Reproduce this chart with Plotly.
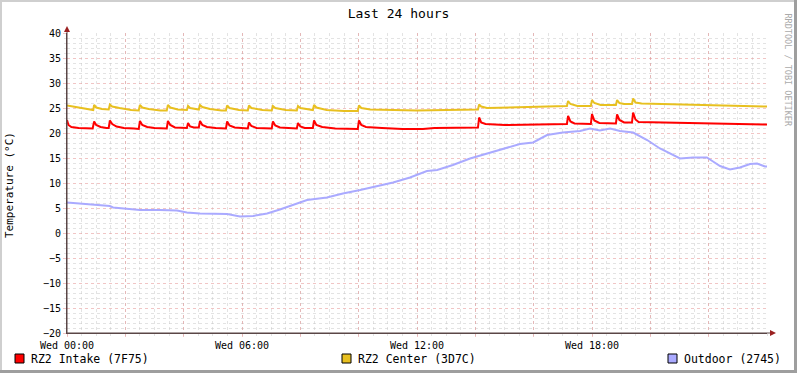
import plotly.graph_objects as go

# ---------------- data (hours since Wed 00:00, degrees C) ----------------
intake_t = [0.0, 0.05, 0.15, 0.4, 0.88,
            0.93, 1.0, 1.15, 1.35, 1.43,
            1.47, 1.55, 1.7, 1.95, 2.3, 2.46,
            2.50, 2.58, 2.75, 3.0, 3.42,
            3.46, 3.54, 3.7, 4.11,
            4.15, 4.22, 4.35, 4.52,
            4.56, 4.64, 4.8, 5.1, 5.45,
            5.49, 5.57, 5.75, 6.2,
            6.24, 6.32, 6.5, 7.02,
            7.06, 7.14, 7.3, 7.88,
            7.92, 8.0, 8.15, 8.43,
            8.47, 8.55, 8.75, 9.2, 9.97,
            10.01, 10.09, 10.25, 10.8, 11.5, 12.2, 12.6, 14.09,
            14.13, 14.2, 14.35, 15.0, 16.0, 17.14,
            17.18, 17.26, 17.4, 17.96,
            18.0, 18.08, 18.25, 18.82,
            18.86, 18.94, 19.1, 19.37,
            19.41, 19.49, 19.6, 20.5, 21.5, 23.0, 24.0]
intake_v = [22.6, 21.6, 21.2, 21.0, 20.9,
            22.3, 21.6, 21.2, 21.0, 21.0,
            22.5, 21.8, 21.3, 21.0, 20.9, 20.8,
            22.4, 21.6, 21.2, 21.0, 20.9,
            22.4, 21.6, 21.1, 21.0,
            22.0, 21.3, 21.1, 21.1,
            22.4, 21.6, 21.2, 21.0, 20.9,
            22.3, 21.5, 21.1, 20.9,
            22.1, 21.4, 21.0, 20.9,
            22.3, 21.5, 21.1, 20.9,
            22.0, 21.3, 21.0, 21.0,
            22.5, 21.6, 21.2, 20.9, 20.8,
            22.5, 21.6, 21.2, 21.0, 20.8, 20.8, 21.0, 21.1,
            23.1, 22.1, 21.8, 21.6, 21.7, 21.8,
            23.4, 22.3, 21.9, 21.8,
            23.8, 22.5, 22.0, 21.9,
            23.7, 22.6, 22.1, 22.1,
            24.1, 22.7, 22.2, 22.1, 21.9, 21.8, 21.7]

center_t = [0.0, 0.3, 0.6, 0.9,
            0.93, 1.0, 1.2, 1.43,
            1.47, 1.55, 1.8, 2.2, 2.46,
            2.50, 2.58, 2.8, 3.2, 3.42,
            3.46, 3.54, 3.8, 4.11,
            4.15, 4.22, 4.52,
            4.56, 4.64, 4.9, 5.3, 5.45,
            5.49, 5.57, 5.9, 6.2,
            6.24, 6.32, 6.7, 7.02,
            7.06, 7.14, 7.5, 7.88,
            7.92, 8.0, 8.43,
            8.47, 8.55, 8.9, 9.5, 9.97,
            10.01, 10.09, 10.4, 11.0, 12.0, 13.0, 14.09,
            14.13, 14.2, 14.4, 15.0, 16.0, 17.14,
            17.18, 17.26, 17.5, 17.96,
            18.0, 18.08, 18.3, 18.82,
            18.86, 18.94, 19.1, 19.37,
            19.41, 19.49, 19.7, 20.5, 21.5, 22.5, 23.5, 24.0]
center_v = [25.5, 25.2, 24.9, 24.6,
            25.6, 25.1, 24.8, 24.7,
            25.7, 25.3, 25.0, 24.6, 24.5,
            25.6, 25.1, 24.8, 24.5, 24.5,
            25.6, 25.1, 24.7, 24.6,
            25.4, 25.0, 24.7,
            25.6, 25.2, 24.8, 24.5, 24.5,
            25.5, 25.0, 24.6, 24.5,
            25.5, 25.0, 24.6, 24.5,
            25.4, 25.0, 24.6, 24.5,
            25.4, 25.0, 24.6,
            25.6, 25.1, 24.6, 24.4, 24.4,
            25.5, 25.0, 24.7, 24.6, 24.5, 24.6, 24.7,
            25.7, 25.3, 25.0, 25.1, 25.3, 25.4,
            26.4, 25.8, 25.4, 25.4,
            26.6, 26.0, 25.6, 25.6,
            26.6, 26.0, 25.8, 25.8,
            26.9, 26.1, 25.9, 25.8, 25.6, 25.5, 25.4, 25.3]

outdoor_t = [0.0, 0.45, 0.89, 1.47, 1.58, 2.06, 2.5, 3.19, 3.77, 4.11,
             4.56, 5.49, 5.93, 6.38, 6.86, 7.3, 7.75, 8.23, 8.91, 9.46,
             10.05, 10.63, 11.18, 11.76, 12.0, 12.34, 12.69, 13.23, 13.82, 14.4,
             14.95, 15.53, 15.98, 16.46, 17.0, 17.59, 17.93, 18.27, 18.62, 18.96,
             19.41, 19.89, 20.33, 20.78, 21.02, 21.46, 21.94, 22.15, 22.39, 22.73,
             23.07, 23.42, 23.66, 23.93, 24.0]
outdoor_v = [6.1, 5.9, 5.6, 5.4, 5.1, 4.9, 4.6, 4.6, 4.5, 4.1,
             3.9, 3.8, 3.3, 3.4, 3.9, 4.7, 5.6, 6.6, 7.1, 7.9,
             8.6, 9.3, 10.1, 11.1, 11.7, 12.4, 12.6, 13.6, 14.9, 15.9,
             16.9, 17.8, 18.1, 19.6, 20.1, 20.4, 20.9, 20.5, 20.9, 20.4,
             20.1, 18.6, 16.9, 15.6, 14.9, 15.1, 15.1, 14.3, 13.4, 12.7,
             13.1, 13.8, 13.9, 13.3, 13.3]

series_names = ["RZ2 Intake (7F75)", "RZ2 Center (3D7C)", "Outdoor (2745)"]
series_colors = ["#FF0000", "#E8C020", "#AAAAFF"]

x_tickvals = [0, 2, 4, 6, 8, 10, 12, 14, 16, 18, 20, 22]
x_ticktext = ["Wed 00:00", "", "", "Wed 06:00", "", "", "Wed 12:00", "", "", "Wed 18:00", "", ""]

# ---------------- layout helpers (pixel -> paper) ----------------
W, H = 797, 373
L, R, T, B = 67, 767, 33, 333


def px(x):
    return (x - L) / (R - L)


def py(y):
    return (B - y) / (B - T)


FONT = "DejaVu Sans Mono"

fig = go.Figure()
for t, v, n, c in [(center_t, center_v, series_names[1], series_colors[1]),
                   (intake_t, intake_v, series_names[0], series_colors[0]),
                   (outdoor_t, outdoor_v, series_names[2], series_colors[2])]:
    fig.add_trace(go.Scatter(x=t, y=v, name=n, mode="lines",
                             line=dict(color=c, width=2), showlegend=False))

grid_major = "rgba(230,150,150,0.55)"
grid_minor = "rgba(200,200,200,0.5)"
axis_col = "#5a4646"

fig.update_layout(
    width=W, height=H,
    margin=dict(l=L, r=W - R, t=T, b=H - B, pad=0, autoexpand=False),
    paper_bgcolor="#FFFFFF", plot_bgcolor="#FFFFFF",
    font=dict(family=FONT, size=10, color="#000000"),
    title=dict(text="Last 24 hours", x=0.5, xanchor="center", y=1 - 13 / H,
               yanchor="middle", font=dict(family=FONT, size=13, color="#000")),
    xaxis=dict(range=[0, 24], tickmode="array", tickvals=x_tickvals, ticktext=x_ticktext,
               showgrid=True, gridcolor=grid_major, griddash="dot", gridwidth=1,
               ticks="outside", ticklen=3, tickcolor=grid_major,
               showline=True, linecolor=axis_col, linewidth=1, zeroline=False,
               tickfont=dict(family=FONT, size=10), automargin=False,
               minor=dict(dtick=0.5, showgrid=True, gridcolor=grid_minor, griddash="dot",
                          ticks="outside", ticklen=2, tickcolor=grid_minor),
               fixedrange=True),
    yaxis=dict(range=[-20, 40], dtick=5, tick0=0,
               showgrid=True, gridcolor=grid_major, griddash="dot", gridwidth=1,
               ticks="outside", ticklen=3, tickcolor=grid_major,
               showline=True, linecolor=axis_col, linewidth=1, zeroline=False,
               tickfont=dict(family=FONT, size=10), automargin=False,
               minor=dict(dtick=1, showgrid=True, gridcolor=grid_minor, griddash="dot",
                          ticks="outside", ticklen=2, tickcolor=grid_minor),
               fixedrange=True),
)

shapes = []
# axis extensions + arrows
shapes.append(dict(type="line", xref="paper", yref="paper", x0=px(L), x1=px(L), y0=py(B), y1=py(28),
                   line=dict(color=axis_col, width=1)))
shapes.append(dict(type="line", xref="paper", yref="paper", x0=px(L), x1=px(772), y0=py(B), y1=py(B),
                   line=dict(color=axis_col, width=1)))
shapes.append(dict(type="path", xref="paper", yref="paper",
                   path=f"M {px(L-3)} {py(32)} L {px(L+3)} {py(32)} L {px(L)} {py(26)} Z",
                   fillcolor="#9a2020", line=dict(width=0)))
shapes.append(dict(type="path", xref="paper", yref="paper",
                   path=f"M {px(770)} {py(B-3)} L {px(770)} {py(B+3)} L {px(776)} {py(B)} Z",
                   fillcolor="#9a2020", line=dict(width=0)))
# frame (3D border)
shapes.append(dict(type="rect", xref="paper", yref="paper", x0=px(0), x1=px(2), y0=py(H), y1=py(0),
                   fillcolor="#CFCFCF", line=dict(width=0)))
shapes.append(dict(type="rect", xref="paper", yref="paper", x0=px(0), x1=px(W), y0=py(2), y1=py(0),
                   fillcolor="#CFCFCF", line=dict(width=0)))
shapes.append(dict(type="rect", xref="paper", yref="paper", x0=px(W - 3), x1=px(W), y0=py(H), y1=py(0),
                   fillcolor="#9E9E9E", line=dict(width=0)))
shapes.append(dict(type="rect", xref="paper", yref="paper", x0=px(0), x1=px(W), y0=py(H), y1=py(H - 3),
                   fillcolor="#9E9E9E", line=dict(width=0)))

annotations = []
legend_sq_x = [15, 342, 668]
for sx, n, c in zip(legend_sq_x, series_names, series_colors):
    shapes.append(dict(type="rect", xref="paper", yref="paper", x0=px(sx), x1=px(sx + 9),
                       y0=py(363), y1=py(354), fillcolor=c, line=dict(color="#000", width=1)))
    annotations.append(dict(text=n, xref="paper", yref="paper", x=px(sx + 14), y=py(358.5),
                            xanchor="left", yanchor="middle", showarrow=False,
                            font=dict(family=FONT, size=11.5, color="#000")))

annotations.append(dict(text="Temperature (°C)", xref="paper", yref="paper",
                        x=px(10), y=py(185), xanchor="center", yanchor="middle", textangle=-90,
                        showarrow=False, font=dict(family=FONT, size=11, color="#000")))
annotations.append(dict(text="RRDTOOL / TOBI OETIKER", xref="paper", yref="paper",
                        x=px(787), y=py(12), xanchor="center", yanchor="top", textangle=90,
                        showarrow=False, font=dict(family=FONT, size=8.5, color="#AAAAAA")))

fig.update_layout(shapes=shapes, annotations=annotations)

fig.write_html("out.html",
               config={"displayModeBar": False, "staticPlot": True},
               post_script="document.body.style.margin='0';document.body.style.padding='0';"
                           "document.documentElement.style.margin='0';")
